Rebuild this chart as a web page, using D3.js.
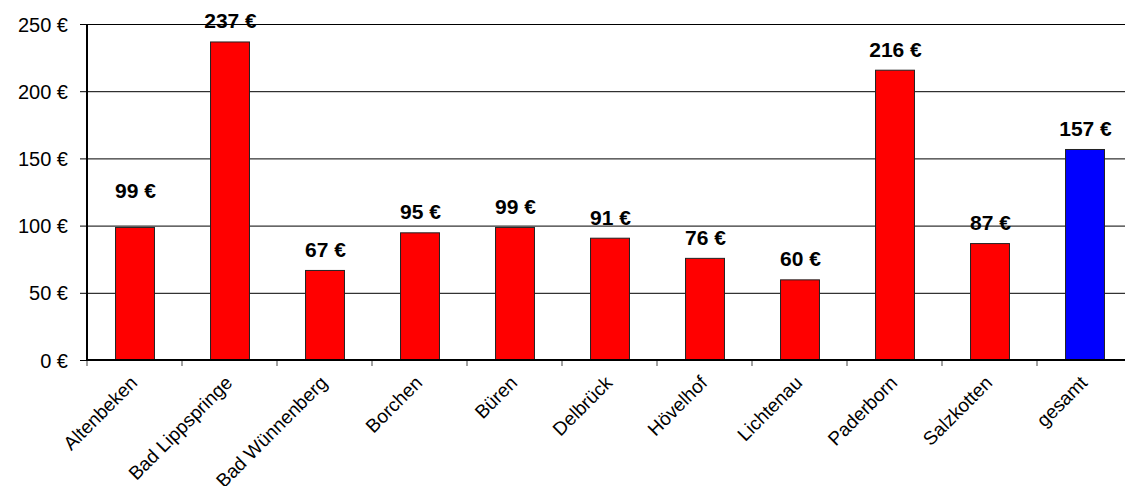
<!DOCTYPE html>
<html>
<head>
<meta charset="utf-8">
<script src="https://cdn.jsdelivr.net/npm/d3@7"></script>
<style>
  html, body { margin: 0; padding: 0; background: #fff; }
  svg { display: block; }
  text { font-family: "Liberation Sans", Arial, sans-serif; fill: #000; }
</style>
</head>
<body>
<svg id="chart" width="1125" height="486"></svg>
<script>
const categories = ["Altenbeken", "Bad Lippspringe", "Bad Wünnenberg", "Borchen", "Büren", "Delbrück", "Hövelhof", "Lichtenau", "Paderborn", "Salzkotten", "gesamt"];
const values = [99, 237, 67, 95, 99, 91, 76, 60, 216, 87, 157];
const yTicks = [0, 50, 100, 150, 200, 250];
const highlight = "gesamt";

(function () {
const svg = d3.select("#chart");
const pLeft = 87, pTop = 24, pBottom = 360, pRight = 1132;

const x = d3.scaleBand().domain(categories).range([pLeft, pRight]).paddingInner(0.59).paddingOuter(0.295);
const y = d3.scaleLinear().domain([0, 250]).range([pBottom, pTop]);

const data = categories.map((c, i) => ({ c, v: values[i] }));

// gridlines
svg.append("g").selectAll("line").data(yTicks.filter(t => t > 0)).join("line")
  .attr("x1", pLeft).attr("x2", 1125)
  .attr("y1", d => y(d) + 0.5).attr("y2", d => y(d) + 0.5)
  .attr("stroke", "#000").attr("stroke-width", 1);

// y axis
const yAxis = d3.axisLeft(y).tickValues(yTicks).tickSize(7).tickPadding(12).tickFormat(d => d + " €");
const gy = svg.append("g").attr("transform", `translate(${pLeft},0)`).call(yAxis);
gy.select(".domain").remove();
gy.selectAll(".tick line").attr("stroke", "#000");
gy.selectAll(".tick text").style("font-size", "20px").attr("fill", "#000").attr("dy", "0.35em");

// bars
svg.append("g").selectAll("rect").data(data).join("rect")
  .attr("x", d => x(d.c) + 0.5)
  .attr("y", d => y(d.v) + 0.5)
  .attr("width", x.bandwidth())
  .attr("height", d => y(0) - y(d.v))
  .attr("fill", d => d.c === highlight ? "#0000FF" : "#FF0000")
  .attr("stroke", "#222").attr("stroke-width", 1);

// x axis ticks at band boundaries
const bounds = categories.map(c => x(c) - (x.step() - x.bandwidth()) / 2).concat([pRight]);
svg.append("g").selectAll("line").data(bounds).join("line")
  .attr("x1", d => d).attr("x2", d => d)
  .attr("y1", pBottom).attr("y2", pBottom + 6)
  .attr("stroke", "#444").attr("stroke-width", 1);

// axis lines
svg.append("line").attr("x1", pLeft).attr("x2", pLeft).attr("y1", pTop).attr("y2", pBottom + 1)
  .attr("stroke", "#000").attr("stroke-width", 2);
svg.append("line").attr("x1", pLeft - 1).attr("x2", 1125).attr("y1", pBottom).attr("y2", pBottom)
  .attr("stroke", "#000").attr("stroke-width", 2);

// value labels
svg.append("g").selectAll("text").data(data).join("text")
  .attr("x", d => x(d.c) + x.bandwidth() / 2 + 1)
  .attr("y", d => y(d.v) - (d.c === "Altenbeken" ? 29 : 13))
  .attr("text-anchor", "middle")
  .style("font-size", "21px").style("font-weight", "bold")
  .text(d => d.v + " €");

// category labels
svg.append("g").selectAll("text").data(categories).join("text")
  .attr("transform", d => `translate(${x(d) + x.bandwidth() / 2 + 4},384) rotate(-45)`)
  .attr("text-anchor", "end")
  .style("font-size", "19px")
  .text(d => d);
})();
</script>
</body>
</html>
